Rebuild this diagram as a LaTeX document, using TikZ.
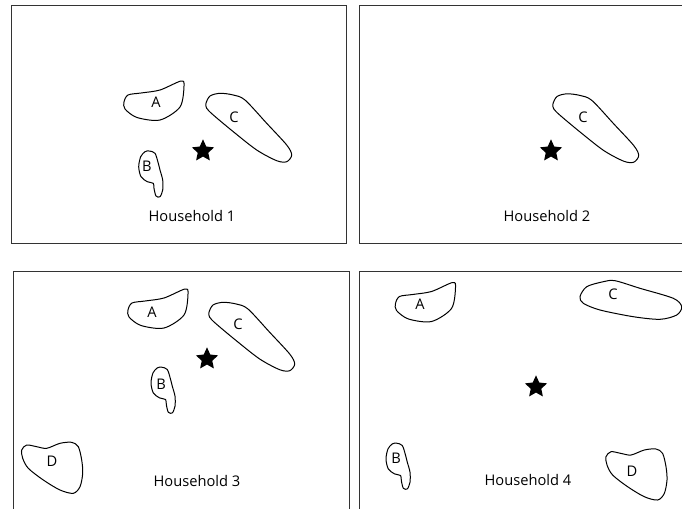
\documentclass[tikz,border=0pt]{standalone}
\usepackage{fontspec}
\setmainfont{Open Sans}
\usetikzlibrary{shapes.geometric}

\begin{document}
\begin{tikzpicture}[x=0.75pt, y=-0.75pt,
    every node/.style={font=\fontsize{11}{13}\selectfont, inner sep=0pt},
    panel/.style={draw=black!80, line width=0.7pt},
    region/.style={draw=black, line width=0.75pt},
    home/.style={star, star points=5, star point ratio=2.1, fill=black, minimum size=17.5pt},
    pics/blobA/.style={code={\draw[region] plot[smooth cycle] coordinates {(-29.5,1.5) (-25.5,-5.5) (-12.5,-7.5) (6.5,-10.5) (27.5,-19.5) (30.5,-14.5) (26.5,6.5) (6.5,19.5) (-16.5,17) (-28.5,8.5)};}},
    pics/blobB/.style={code={\draw[region] plot[smooth cycle] coordinates {(-1.4,-22.8) (4.3,-20.5) (7.6,-10.5) (9.3,-3.8) (12,6.2) (12,16.2) (9.3,22.9) (5.3,22.2) (3.3,14.5) (2.6,9.5) (-3.4,7.9) (-9.7,2.9) (-12,-7.1) (-10,-17.1) (-5.7,-22.1)};}},
    pics/blobC/.style={code={\draw[region] plot[smooth cycle] coordinates {(-43,-24.2) (-39,-31.5) (-29,-34.2) (-15.7,-32.5) (-4,-27.5) (17.7,-4.2) (37.7,17.5) (42.7,27.5) (37.7,34.2) (27.7,33.2) (7.7,22.5) (-15.7,4.2) (-35.7,-12.5) (-42.3,-19.2)};}},
    pics/blobCwide/.style={code={\draw[region] plot[smooth cycle] coordinates {(-50.8,-3.3) (-44.1,-13.3) (-27.5,-18.3) (-15.8,-19.3) (9.2,-11.7) (42.5,-1.7) (50.9,6.7) (45.9,15) (29.2,19.3) (2.5,16.7) (-30.8,10) (-47.5,3.3)};}},
    pics/blobD/.style={code={\draw[region] plot[smooth cycle] coordinates {(-30.5,-17.8) (-25.5,-22.8) (-15.5,-21.1) (-5.5,-19.5) (7.8,-24.5) (19.5,-25.5) (26.1,-21.1) (29.5,-7.8) (30.5,5.5) (27.8,18.9) (21.1,25.5) (7.8,22.2) (-8.9,12.2) (-23.9,0.5) (-29.5,-9.5)};}}]
    \clip (0,0) rectangle (682,508);
    \fill[white] (0,0) rectangle (682,508);

    \draw[panel] (11,5) rectangle (346,243);
    \draw[panel] (359,5) rectangle (690,243);
    \draw[panel] (13,271.5) rectangle (349,520);
    \draw[panel] (359,271.5) rectangle (690,520);

    \pic at (153.5,100.5) {blobA};
    \pic at (249,127.5) {blobC};
    \pic at (150.7,173.8) {blobB};
    \node (a1) at (156,102) {A};
    \node (c1) at (234,117) {C};
    \node (b1) at (147,166) {B};
    \node (home1) [home] at (203,151) {};
    \node (hh1) at (192,216) {Household 1};

    \pic at (596,128) {blobC};
    \node (c2) at (583,117) {C};
    \node (home2) [home] at (551,151) {};
    \node (hh2) at (547,216) {Household 2};

    \pic at (157.5,308.5) {blobA};
    \pic at (252,336.5) {blobC};
    \pic at (163,390) {blobB};
    \pic at (52.2,467.8) {blobD};
    \node (a3) at (152,312) {A};
    \node (c3) at (238,324) {C};
    \node (b3) at (161,384) {B};
    \node (d3) at (52,461) {D};
    \node (home3) [home] at (207,359) {};
    \node (hh3) at (197,481) {Household 3};

    \pic at (425,302) {blobA};
    \pic at (630.8,300) {blobCwide};
    \pic at (398,466) {blobB};
    \pic at (636.5,474.5) {blobD};
    \node (a4) at (420,304) {A};
    \node (c4) at (613,294) {C};
    \node (b4) at (396,458) {B};
    \node (d4) at (632,471) {D};
    \node (home4) [home] at (536,387) {};
    \node (hh4) at (528,480) {Household 4};
\end{tikzpicture}
\end{document}
